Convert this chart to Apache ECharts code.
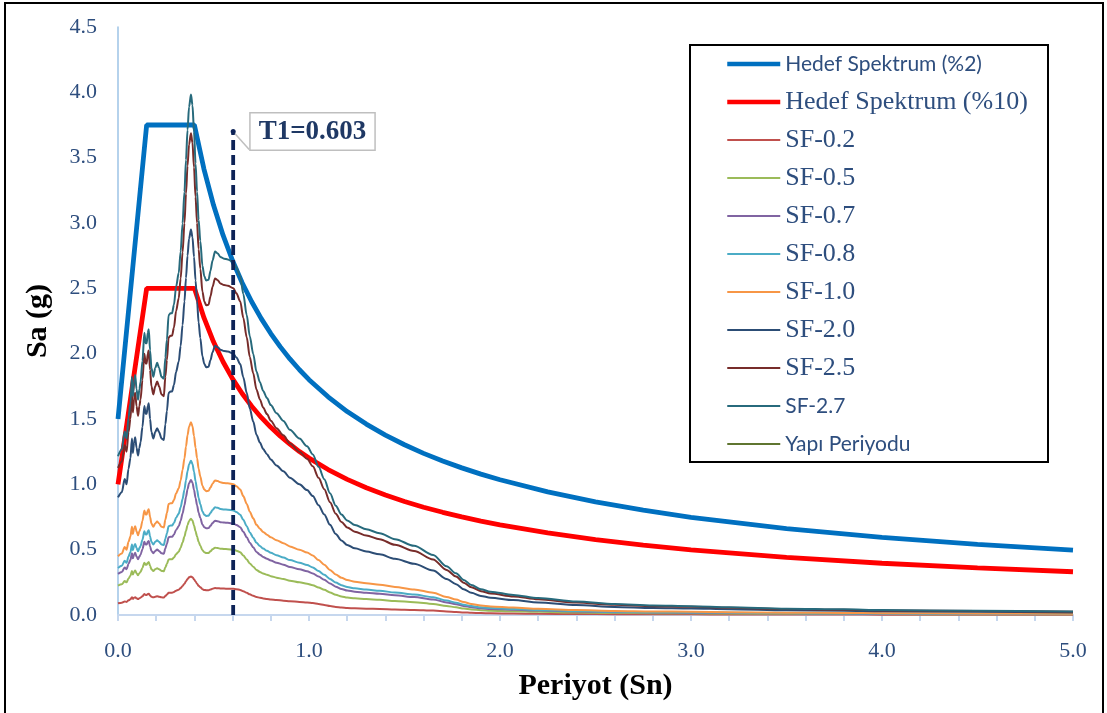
<!DOCTYPE html>
<html>
<head>
<meta charset="utf-8">
<script src="https://cdn.jsdelivr.net/npm/echarts@6/dist/echarts.min.js"></script>
<style>
  html, body { margin: 0; padding: 0; background: #fff; }
  #chart { width: 1107px; height: 713px; }
</style>
</head>
<body>
<div id="chart"></div>
<script>
// Target (design) spectra, periods in seconds, Sa in g
const targetPeriods = [0, 0.15, 0.40, 0.45, 0.50, 0.55, 0.60, 0.65, 0.70, 0.75, 0.80, 0.85, 0.90, 0.95, 1.0, 1.1, 1.2, 1.3, 1.4, 1.5, 1.6, 1.7, 1.8, 1.9, 2.0, 2.25, 2.5, 2.75, 3.0, 3.5, 4.0, 4.5, 5.0];
const hedef2 = [1.50, 3.75, 3.75, 3.413, 3.137, 2.907, 2.711, 2.543, 2.397, 2.268, 2.154, 2.052, 1.960, 1.877, 1.801, 1.670, 1.557, 1.461, 1.377, 1.303, 1.237, 1.179, 1.126, 1.078, 1.035, 0.942, 0.866, 0.802, 0.748, 0.661, 0.594, 0.541, 0.497];
const hedef10 = [1.00, 2.50, 2.50, 2.275, 2.091, 1.938, 1.807, 1.695, 1.598, 1.512, 1.436, 1.368, 1.307, 1.251, 1.201, 1.113, 1.038, 0.974, 0.918, 0.869, 0.825, 0.786, 0.751, 0.719, 0.690, 0.628, 0.577, 0.535, 0.499, 0.441, 0.396, 0.361, 0.331];

// Record response spectrum at scale factor 1.0
const recordPeriods = [0.000,0.020,0.035,0.045,0.055,0.065,0.073,0.078,0.084,0.090,
  0.097,0.105,0.112,0.118,0.128,0.138,0.145,0.150,0.156,0.161,
  0.168,0.175,0.185,0.195,0.205,0.215,0.228,0.240,0.248,0.256,
  0.265,0.275,0.283,0.293,0.304,0.318,0.328,0.338,0.348,0.356,
  0.364,0.372,0.382,0.390,0.398,0.406,0.414,0.422,0.431,0.442,
  0.452,0.462,0.474,0.484,0.495,0.508,0.522,0.536,0.555,0.575,
  0.604,0.620,0.640,0.656,0.674,0.690,0.708,0.725,0.743,0.760,
  0.780,0.800,0.830,0.866,0.900,0.950,0.990,1.020,1.050,1.080,
  1.110,1.140,1.170,1.200,1.240,1.300,1.370,1.450,1.550,1.650,
  1.720,1.770,1.810,1.850,1.900,1.950,2.070,2.200,2.400,2.600,
  2.800,3.000,3.200,3.500,3.800,4.000,4.500,5.000];
const recordSa = [0.450,0.470,0.520,0.500,0.560,0.600,0.675,0.620,0.660,0.680,
  0.640,0.610,0.640,0.660,0.720,0.800,0.770,0.770,0.800,0.810,
  0.750,0.700,0.675,0.700,0.715,0.700,0.675,0.670,0.730,0.780,
  0.850,0.855,0.855,0.880,0.930,0.970,1.030,1.110,1.200,1.290,
  1.375,1.440,1.475,1.445,1.370,1.280,1.200,1.120,1.060,0.990,
  0.960,0.948,0.950,0.975,1.005,1.030,1.025,1.015,1.010,1.008,
  1.000,0.985,0.960,0.910,0.850,0.790,0.740,0.690,0.660,0.635,
  0.615,0.595,0.572,0.550,0.525,0.500,0.478,0.455,0.420,0.385,
  0.345,0.310,0.285,0.268,0.255,0.243,0.232,0.215,0.196,0.170,
  0.138,0.118,0.099,0.085,0.073,0.066,0.057,0.048,0.038,0.031,
  0.027,0.025,0.022,0.018,0.016,0.014,0.012,0.010];

// Scale factors applied to the record
const scaleFactors = [0.2, 0.5, 0.7, 0.8, 1.0, 2.0, 2.5, 2.7];
const sfColors = ['#C0504D', '#9BBB59', '#8064A2', '#4BACC6', '#F79646', '#2C4D75', '#772C2A', '#276A7C'];

// Structure period
const structurePeriod = 0.603;
const periodMarkerTop = 3.7;

const xTicks = { min: 0, max: 5, step: 1 };
const yTicks = { min: 0, max: 4.5, step: 0.5 };

const serif = 'Liberation Serif';
const sans = 'Lato';
const textBlue = '#2E4E7E';

function pairs(xs, ys) { return xs.map((x, i) => [x, ys[i]]); }

const sfName = f => 'SF-' + f.toFixed(1);
const serifLegend = { fontFamily: serif, fontSize: 26, lineHeight: 26, color: textBlue };
const sansLegend = { fontFamily: sans, fontSize: 21, lineHeight: 26, color: textBlue };

const series = [
  { name: 'Hedef Spektrum (%2)', type: 'line', symbol: 'none', data: pairs(targetPeriods, hedef2),
    lineStyle: { color: '#0070C0', width: 4.8 }, itemStyle: { color: '#0070C0' }, z: 2 },
  { name: 'Hedef Spektrum (%10)', type: 'line', symbol: 'none', data: pairs(targetPeriods, hedef10),
    lineStyle: { color: '#FF0000', width: 4.8 }, itemStyle: { color: '#FF0000' }, z: 2 }
];
scaleFactors.forEach((f, i) => {
  series.push({
    name: sfName(f), type: 'line', symbol: 'none', smooth: 0.3, smoothMonotone: 'x',
    data: recordPeriods.map((t, k) => [t, +(recordSa[k] * f).toFixed(4)]),
    lineStyle: { color: sfColors[i], width: 2 }, itemStyle: { color: sfColors[i] }, z: 3
  });
});
series.push({
  name: 'Yapı Periyodu', type: 'line', symbol: 'none',
  data: [
    [structurePeriod, 0],
    { value: [structurePeriod, periodMarkerTop], symbol: 'circle', symbolSize: 5,
      label: {
        show: true, position: 'right', distance: 15,
        formatter: 'T1=' + structurePeriod.toFixed(3),
        fontFamily: serif, fontWeight: 'bold', fontSize: 27, color: '#1F3864',
        backgroundColor: '#fff', borderColor: '#BFBFBF', borderWidth: 1.5, padding: [5, 8, 4, 8]
      },
      labelLine: { show: true, lineStyle: { color: '#BFBFBF', width: 1.5 } }
    }
  ],
  lineStyle: { color: '#0D2357', width: 3.8, type: [10, 5] }, itemStyle: { color: '#0D2357' }, z: 5
});

const legendData = [
  { name: 'Hedef Spektrum (%2)', textStyle: sansLegend, lineStyle: { width: 4.5 } },
  { name: 'Hedef Spektrum (%10)', textStyle: serifLegend, lineStyle: { width: 4.5 } }
].concat(scaleFactors.map(f => ({
  name: sfName(f), textStyle: f === 2.7 ? sansLegend : serifLegend, lineStyle: { width: 2 }
}))).concat([
  { name: 'Yapı Periyodu', textStyle: sansLegend,
    lineStyle: { color: '#5F7530', type: 'solid', width: 2 } }
]);

const axisBlue = '#C6D7EE';
const option = {
  animation: false,
  backgroundColor: '#fff',
  grid: { left: 118, right: 34, top: 27, bottom: 98, containLabel: false },
  xAxis: {
    type: 'value', min: xTicks.min, max: xTicks.max, interval: xTicks.step,
    axisLine: { show: true, onZero: false, lineStyle: { color: axisBlue, width: 2 } },
    axisTick: { show: true, inside: false, length: 6, lineStyle: { color: axisBlue, width: 2 } },
    minorTick: { show: true, splitNumber: 5, length: 6, lineStyle: { color: axisBlue, width: 2 } },
    splitLine: { show: false },
    axisLabel: { formatter: v => v.toFixed(1), fontFamily: serif, fontSize: 22, color: textBlue, margin: 25 },
    name: 'Periyot (Sn)', nameLocation: 'middle', nameGap: 71,
    nameTextStyle: { fontFamily: serif, fontWeight: 'bold', fontSize: 30, color: '#000', verticalAlign: 'middle' }
  },
  yAxis: {
    type: 'value', min: yTicks.min, max: yTicks.max, interval: yTicks.step,
    axisLine: { show: true, lineStyle: { color: '#9DC3E6', width: 1.5 } },
    axisTick: { show: false },
    splitLine: { show: false },
    axisLabel: { formatter: v => v.toFixed(1), fontFamily: serif, fontSize: 22, color: textBlue, margin: 21 },
    name: 'Sa (g)', nameLocation: 'middle', nameGap: 80, nameRotate: 90,
    nameTextStyle: { fontFamily: serif, fontWeight: 'bold', fontSize: 30, color: '#000', verticalAlign: 'middle' }
  },
  legend: {
    orient: 'vertical', left: 725, top: 51, padding: 0,
    itemWidth: 53, itemHeight: 26, itemGap: 12,
    itemStyle: { opacity: 0 },
    selectedMode: false,
    data: legendData
  },
  graphic: [
    { type: 'rect', shape: { x: 5, y: 3, width: 1098, height: 720 }, silent: true,
      style: { fill: 'none', stroke: '#000', lineWidth: 2 }, z: -1 },
    { type: 'rect', shape: { x: 690, y: 45, width: 358, height: 417 }, silent: true,
      style: { fill: '#fff', stroke: '#000', lineWidth: 2 }, z: -1 }
  ],
  series: series
};

const chart = echarts.init(document.getElementById('chart'), null, { renderer: 'canvas' });
chart.setOption(option);
</script>
</body>
</html>
